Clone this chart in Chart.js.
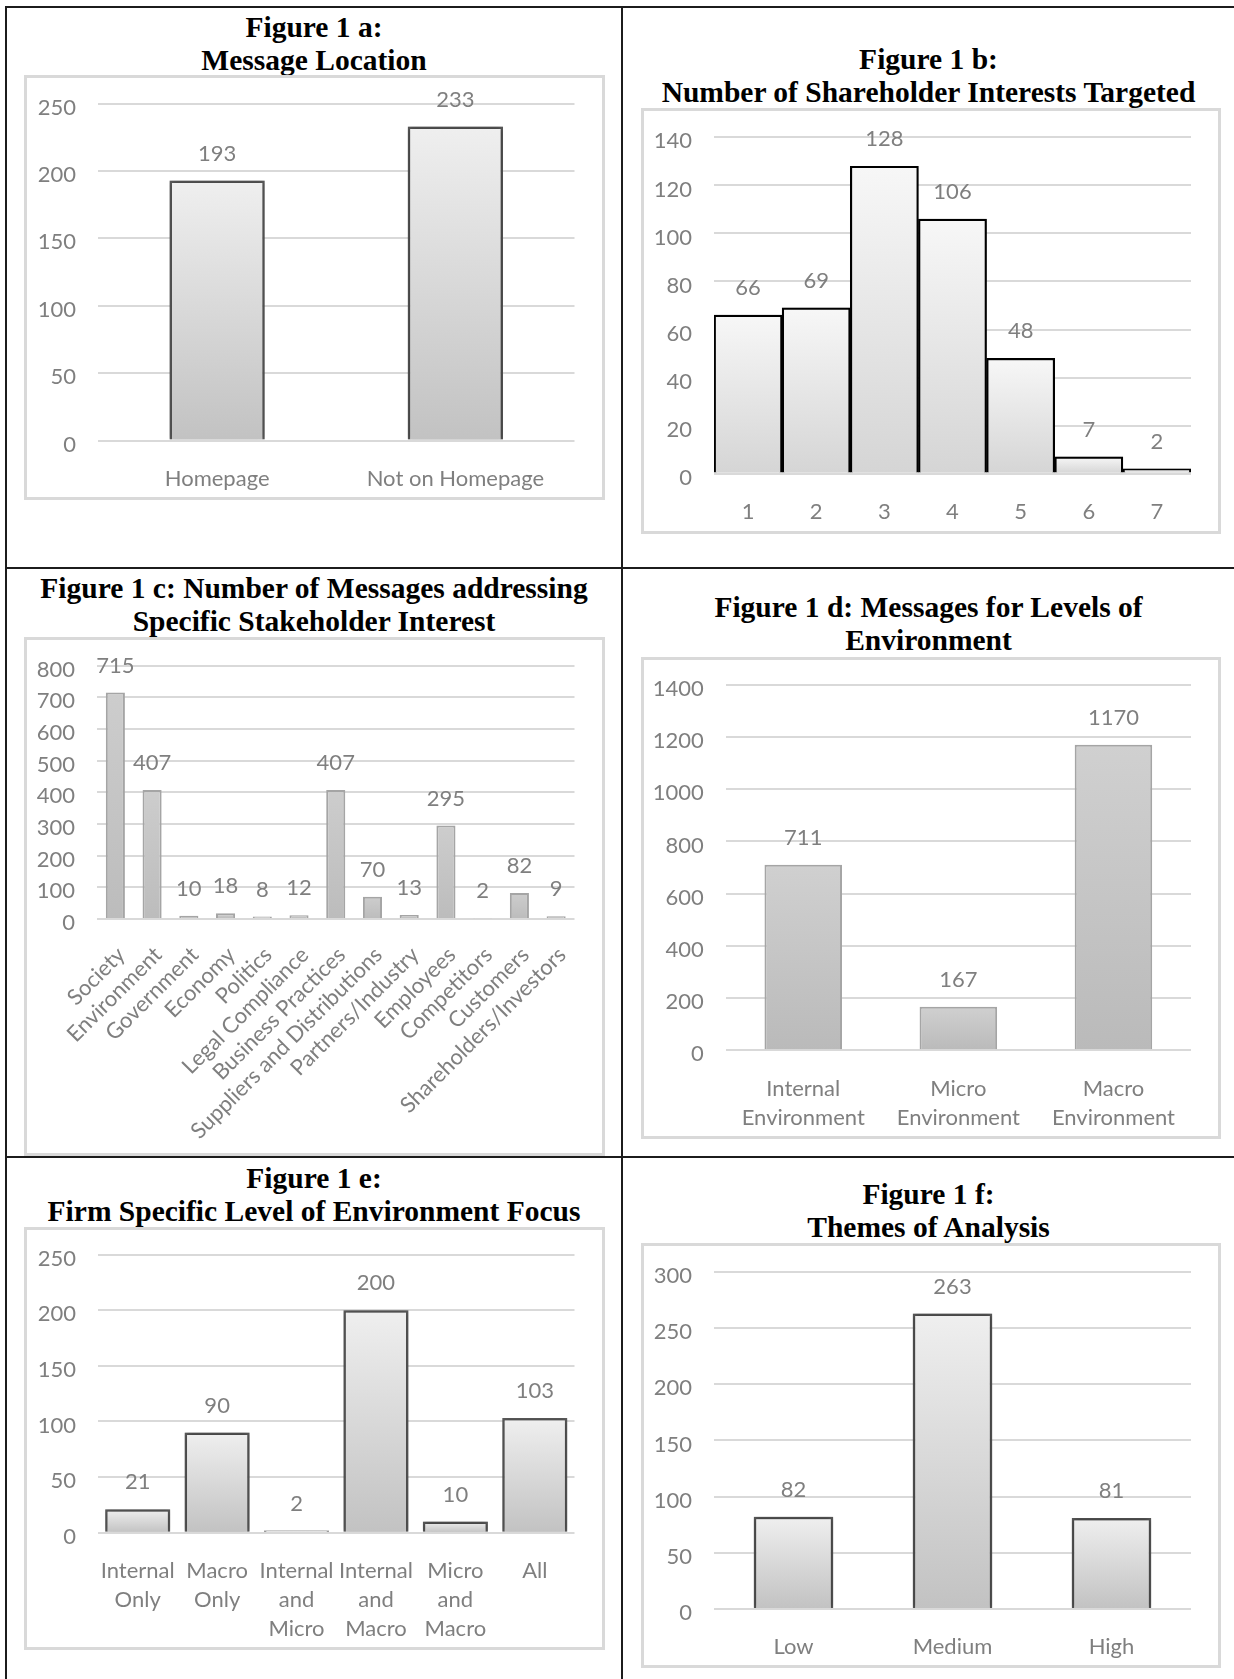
<!DOCTYPE html>
<html>
<head>
<meta charset="utf-8">
<title>Figure 1 a–f</title>
<script src="https://cdn.jsdelivr.net/npm/chart.js@4.4.1/dist/chart.umd.min.js"></script>
<style>
  html, body { margin: 0; padding: 0; background: #fff; }
  body { position: relative; width: 1234px; height: 1679px; overflow: hidden; }
  .rule { position: absolute; background: #1c1c1c; }
  .title {
    position: absolute; text-align: center; color: #000;
    font-family: "Liberation Serif", "Times New Roman", serif;
    font-weight: bold; font-size: 29.5px; line-height: 33px; white-space: nowrap;
  }
  .frame { position: absolute; box-sizing: border-box; border: 3px solid #d9d9d9; }
  .frame canvas { position: absolute; left: 0; top: 0; }
</style>
</head>
<body>
<!-- table rules -->
<div class="rule" style="left:5px; top:6px; width:1229px; height:2px;"></div>
<div class="rule" style="left:5px; top:6px; width:2px; height:1673px;"></div>
<div class="rule" style="left:621px; top:6px; width:2px; height:1673px;"></div>
<div class="rule" style="left:5px; top:567px; width:1229px; height:2px;"></div>
<div class="rule" style="left:5px; top:1156px; width:1229px; height:2px;"></div>

<!-- titles -->
<div class="title" style="left:7px; width:614px; top:11px;">Figure 1 a:<br>Message Location</div>
<div class="title" style="left:623px; width:611px; top:43px;">Figure 1 b:<br>Number of Shareholder Interests Targeted</div>
<div class="title" style="left:7px; width:614px; top:572px;">Figure 1 c: Number of Messages addressing<br>Specific Stakeholder Interest</div>
<div class="title" style="left:623px; width:611px; top:591px;">Figure 1 d: Messages for Levels of<br>Environment</div>
<div class="title" style="left:7px; width:614px; top:1162px;">Figure 1 e:<br>Firm Specific Level of Environment Focus</div>
<div class="title" style="left:623px; width:611px; top:1178px;">Figure 1 f:<br>Themes of Analysis</div>

<div class="frame" id="frameA"><canvas id="chartA"></canvas></div>
<div class="frame" id="frameB"><canvas id="chartB"></canvas></div>
<div class="frame" id="frameC"><canvas id="chartC"></canvas></div>
<div class="frame" id="frameD"><canvas id="chartD"></canvas></div>
<div class="frame" id="frameE"><canvas id="chartE"></canvas></div>
<div class="frame" id="frameF"><canvas id="chartF"></canvas></div>

<script>
// ---- data ----
const locationLabels = ['Homepage', 'Not on Homepage'];
const locationCounts = [193, 233];
const locationAxis = [0, 250, 50];            // min, max, step

const interestNumberLabels = ['1', '2', '3', '4', '5', '6', '7'];
const interestNumberCounts = [66, 69, 128, 106, 48, 7, 2];
const interestNumberAxis = [0, 140, 20];

const stakeholderLabels = ['Society', 'Environment', 'Government', 'Economy', 'Politics',
  'Legal Compliance', 'Business Practices', 'Suppliers and Distributions',
  'Partners/Industry', 'Employees', 'Competitors', 'Customers', 'Shareholders/Investors'];
const stakeholderCounts = [715, 407, 10, 18, 8, 12, 407, 70, 13, 295, 2, 82, 9];
const stakeholderAxis = [0, 800, 100];

const environmentLevelLabels = [['Internal', 'Environment'], ['Micro', 'Environment'], ['Macro', 'Environment']];
const environmentLevelCounts = [711, 167, 1170];
const environmentLevelAxis = [0, 1400, 200];

const focusLabels = [['Internal', 'Only'], ['Macro', 'Only'], ['Internal', 'and', 'Micro'],
  ['Internal', 'and', 'Macro'], ['Micro', 'and', 'Macro'], ['All']];
const focusCounts = [21, 90, 2, 200, 10, 103];
const focusAxis = [0, 250, 50];

const themeLabels = ['Low', 'Medium', 'High'];
const themeCounts = [82, 263, 81];
const themeAxis = [0, 300, 50];

// ---- shared styling ----
const SANS = 'Lato, "Open Sans", sans-serif';
const TEXT_GREY = '#7f7f7f';
const GRID_GREY = '#d9d9d9';
const FRAME_BORDER = 3;

// per-bar vertical gradient, light at the top of each bar and darker at its base
function barGradient(topColor, bottomColor) {
  return (c) => {
    const chart = c.chart;
    if (!chart.chartArea || c.type !== 'data') return bottomColor;
    const ys = chart.scales.y;
    const yTop = ys.getPixelForValue(c.raw);
    const yBase = ys.getPixelForValue(0);
    if (!isFinite(yTop) || !isFinite(yBase) || Math.abs(yBase - yTop) < 1) return bottomColor;
    const g = chart.ctx.createLinearGradient(0, yTop, 0, yBase);
    g.addColorStop(0, topColor);
    g.addColorStop(1, bottomColor);
    return g;
  };
}

// value labels above bars, plus an optional soft shadow around the bars
const valueLabels = {
  id: 'valueLabels',
  beforeDatasetsDraw(chart, args, opts) {
    if (opts.shadow) {
      const ctx = chart.ctx;
      ctx.save();
      ctx.shadowColor = opts.shadow;
      ctx.shadowBlur = 5;
      ctx.shadowOffsetX = 0;
      ctx.shadowOffsetY = 0;
    }
  },
  afterDatasetsDraw(chart, args, opts) {
    const ctx = chart.ctx;
    if (opts.shadow) ctx.restore();
    ctx.save();
    ctx.font = '22px ' + SANS;
    ctx.fillStyle = TEXT_GREY;
    ctx.textAlign = 'center';
    ctx.textBaseline = 'middle';
    const values = chart.data.datasets[0].data;
    chart.getDatasetMeta(0).data.forEach((bar, i) => {
      ctx.fillText(String(values[i]), bar.x, bar.y - (opts.gap || 27));
    });
    ctx.restore();
  }
};

function makeBarChart(spec) {
  const frameEl = document.getElementById(spec.frameId);
  const f = spec.frame;
  frameEl.style.left = f.x + 'px';
  frameEl.style.top = f.y + 'px';
  frameEl.style.width = f.w + 'px';
  frameEl.style.height = f.h + 'px';

  const ox = f.x + FRAME_BORDER, oy = f.y + FRAME_BORDER;
  const cw = f.w - 2 * FRAME_BORDER, ch = f.h - 2 * FRAME_BORDER;
  const canvas = document.getElementById(spec.canvasId);
  canvas.width = cw;
  canvas.height = ch;
  canvas.style.width = cw + 'px';
  canvas.style.height = ch + 'px';

  const p = spec.plot;
  const yWidth = p.l - ox;
  const xHeight = (oy + ch) - p.b;
  const [yMin, yMax, yStep] = spec.axis;

  return new Chart(canvas, {
    type: 'bar',
    data: {
      labels: spec.labels,
      datasets: [{
        data: spec.values,
        backgroundColor: barGradient(spec.fillTop, spec.fillBottom),
        borderColor: spec.border,
        borderWidth: spec.borderWidth,
        borderSkipped: 'start',
        barPercentage: spec.barPct,
        categoryPercentage: 1
      }]
    },
    options: {
      responsive: false,
      animation: false,
      devicePixelRatio: 1,
      events: [],
      layout: {
        autoPadding: false,
        padding: { top: p.t - oy, right: (ox + cw) - p.r, bottom: 0, left: 0 }
      },
      plugins: {
        legend: { display: false },
        title: { display: false },
        tooltip: { enabled: false },
        valueLabels: { gap: spec.gap || 27, shadow: spec.shadow || null }
      },
      scales: {
        x: {
          grid: { display: false, drawTicks: false },
          border: { display: false },
          ticks: {
            color: TEXT_GREY,
            font: { family: SANS, size: 22, lineHeight: '29px' },
            padding: spec.xPad !== undefined ? spec.xPad : 24,
            labelOffset: spec.xShift || 0,
            autoSkip: false,
            maxRotation: spec.rotation || 0,
            minRotation: spec.rotation || 0
          },
          afterFit(s) { s.height = xHeight; s.paddingLeft = 0; s.paddingRight = 0; }
        },
        y: {
          min: yMin, max: yMax,
          grid: { color: GRID_GREY, lineWidth: 2, drawTicks: false },
          border: { display: false },
          ticks: {
            stepSize: yStep,
            color: TEXT_GREY,
            font: { family: SANS, size: 22 },
            padding: 22,
            labelOffset: 4,
            callback: (v) => String(v)
          },
          afterFit(s) { s.width = yWidth; s.paddingTop = 0; s.paddingBottom = 0; }
        }
      }
    },
    plugins: [valueLabels]
  });
}

// Figure 1 a
makeBarChart({
  frameId: 'frameA', canvasId: 'chartA',
  frame: { x: 24, y: 75, w: 581, h: 425 },
  plot: { l: 98, r: 574.5, t: 103.6, b: 440.6 },
  labels: locationLabels, values: locationCounts, axis: locationAxis,
  fillTop: '#efefef', fillBottom: '#c2c2c2', border: '#5a5a5a', borderWidth: 2.5,
  barPct: 0.40, shadow: 'rgba(0,0,0,0.5)'
});

// Figure 1 b
makeBarChart({
  frameId: 'frameB', canvasId: 'chartB',
  frame: { x: 641, y: 108, w: 580, h: 426 },
  plot: { l: 714, r: 1191, t: 137.4, b: 473.6 },
  labels: interestNumberLabels, values: interestNumberCounts, axis: interestNumberAxis,
  fillTop: '#f7f7f7', fillBottom: '#d5d5d5', border: '#000000', borderWidth: 2.2,
  barPct: 1.0, shadow: 'rgba(0,0,0,0.25)'
});

// Figure 1 c
makeBarChart({
  frameId: 'frameC', canvasId: 'chartC',
  frame: { x: 24, y: 637, w: 581, h: 519 },
  plot: { l: 97, r: 574.5, t: 665.6, b: 919 },
  labels: stakeholderLabels, values: stakeholderCounts, axis: stakeholderAxis,
  fillTop: '#cdcdcd', fillBottom: '#bcbcbc', border: '#a5a5a5', borderWidth: 2,
  barPct: 0.52, rotation: 45, xPad: 22, xShift: 6
});

// Figure 1 d
makeBarChart({
  frameId: 'frameD', canvasId: 'chartD',
  frame: { x: 641, y: 657, w: 580, h: 482 },
  plot: { l: 725.7, r: 1191, t: 684.8, b: 1050.3 },
  labels: environmentLevelLabels, values: environmentLevelCounts, axis: environmentLevelAxis,
  fillTop: '#d0d0d0', fillBottom: '#bababa', border: '#a5a5a5', borderWidth: 2,
  barPct: 0.50
});

// Figure 1 e
makeBarChart({
  frameId: 'frameE', canvasId: 'chartE',
  frame: { x: 24, y: 1227, w: 581, h: 423 },
  plot: { l: 98, r: 574.5, t: 1254.6, b: 1532.7 },
  labels: focusLabels, values: focusCounts, axis: focusAxis,
  fillTop: '#efefef', fillBottom: '#c2c2c2', border: '#5a5a5a', borderWidth: 2.5,
  barPct: 0.82, shadow: 'rgba(0,0,0,0.5)'
});

// Figure 1 f
makeBarChart({
  frameId: 'frameF', canvasId: 'chartF',
  frame: { x: 641, y: 1243, w: 580, h: 425 },
  plot: { l: 714, r: 1191, t: 1272, b: 1608.9 },
  labels: themeLabels, values: themeCounts, axis: themeAxis,
  fillTop: '#efefef', fillBottom: '#c2c2c2', border: '#5a5a5a', borderWidth: 2.5,
  barPct: 0.50, shadow: 'rgba(0,0,0,0.5)'
});
</script>
</body>
</html>
